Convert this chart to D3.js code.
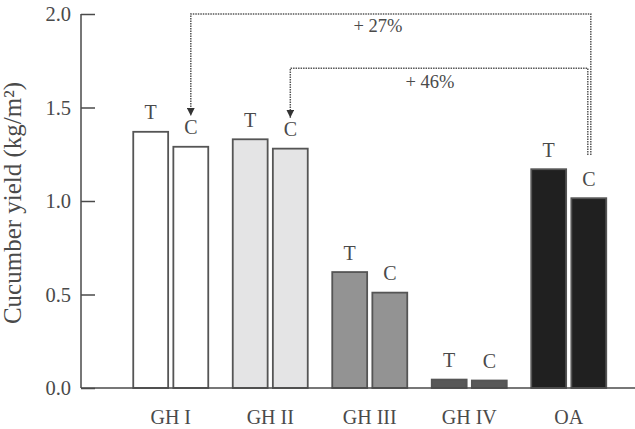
<!DOCTYPE html>
<html>
<head>
<meta charset="utf-8">
<script src="https://cdn.jsdelivr.net/npm/d3@7"></script>
<style>
  body { margin: 0; background: #fff; }
  svg { display: block; font-family: "Liberation Serif", "DejaVu Serif", serif; }
</style>
</head>
<body>
<svg id="chart" width="635" height="429"></svg>
<script>
const groups = [`GH I`, `GH II`, `GH III`, `GH IV`, `OA`];
const treatments = [`T`, `C`];
const tValues = [1.37, 1.33, 0.62, 0.045, 1.17];
const cValues = [1.29, 1.28, 0.51, 0.04, 1.015];
const fills = [`#ffffff`, `#e4e4e5`, `#939393`, `#585858`, `#202020`];
const yTicks = [0, 0.5, 1.0, 1.5, 2.0];

// comparison brackets: from OA control to a greenhouse control
const comparisons = [
  {from: `OA`, to: `GH I`, label: `+ 27%`, level: 2.0},
  {from: `OA`, to: `GH II`, label: `+ 46%`, level: 1.71}
];

const svg = d3.select(`#chart`);
const textColor = `#4a4a4a`;

const y = d3.scaleLinear().domain([0, 2]).range([388, 14]);
const x = d3.scaleBand().domain(groups).range([121, 618.5]);
const xInner = d3.scaleBand().domain(treatments).range([0, 75]).paddingInner(0.13);
const barX = (g, t) => x(g) + (x.bandwidth() - 75) / 2 + xInner(t);
const barMid = (g, t) => barX(g, t) + xInner.bandwidth() / 2;

const rows = [];
groups.forEach((g, i) => {
  rows.push({group: g, t: `T`, value: tValues[i], fill: fills[i]});
  rows.push({group: g, t: `C`, value: cValues[i], fill: fills[i]});
});

// bars
svg.append(`g`).selectAll(`rect`)
  .data(rows)
  .enter().append(`rect`)
  .attr(`x`, d => barX(d.group, d.t))
  .attr(`y`, d => y(d.value))
  .attr(`width`, xInner.bandwidth())
  .attr(`height`, d => y(0) - y(d.value))
  .attr(`fill`, d => d.fill)
  .attr(`stroke`, `#555`)
  .attr(`stroke-width`, 1.8);

// T / C labels
svg.append(`g`).selectAll(`text`)
  .data(rows)
  .enter().append(`text`)
  .attr(`x`, d => barMid(d.group, d.t))
  .attr(`y`, d => y(d.value) - 12.5)
  .attr(`text-anchor`, `middle`)
  .attr(`font-size`, `20px`)
  .attr(`fill`, textColor)
  .text(d => d.t);

// y axis
const yAxis = svg.append(`g`)
  .attr(`transform`, `translate(81,0)`)
  .call(d3.axisRight(y).tickValues(yTicks).tickSize(14).tickFormat(d3.format(`.1f`)));
yAxis.select(`.domain`).attr(`stroke`, textColor).attr(`stroke-width`, 1.5).attr(`d`, `M0,${y(2)}V${y(0)}`);
yAxis.selectAll(`.tick line`).attr(`stroke`, textColor).attr(`stroke-width`, 1.5);
yAxis.selectAll(`.tick text`)
  .attr(`x`, -10)
  .attr(`dy`, `0.33em`)
  .attr(`text-anchor`, `end`)
  .attr(`font-family`, `"Liberation Serif", serif`)
  .attr(`font-size`, `20.5px`)
  .attr(`fill`, textColor);

// x baseline
svg.append(`line`)
  .attr(`x1`, 81).attr(`x2`, 635)
  .attr(`y1`, y(0)).attr(`y2`, y(0))
  .attr(`stroke`, textColor).attr(`stroke-width`, 1.5);

// x labels
svg.append(`g`).selectAll(`text`)
  .data(groups)
  .enter().append(`text`)
  .attr(`x`, d => x(d) + x.bandwidth() / 2)
  .attr(`y`, 424)
  .attr(`text-anchor`, `middle`)
  .attr(`font-size`, `20px`)
  .attr(`fill`, textColor)
  .text(d => d);

// y label
svg.append(`text`)
  .attr(`transform`, `translate(20.5,203) rotate(-90)`)
  .attr(`text-anchor`, `middle`)
  .attr(`font-size`, `25px`)
  .attr(`fill`, textColor)
  .text(`Cucumber yield (kg/m²)`);

// comparison brackets
svg.append(`defs`).append(`marker`)
  .attr(`id`, `arrow`)
  .attr(`viewBox`, `0 0 10 10`)
  .attr(`refX`, 10).attr(`refY`, 5)
  .attr(`markerWidth`, 8).attr(`markerHeight`, 8)
  .attr(`markerUnits`, `userSpaceOnUse`)
  .attr(`orient`, `auto`)
  .append(`path`)
  .attr(`d`, `M0,0L10,5L0,10Z`)
  .attr(`fill`, `#333`);

const cValueOf = g => cValues[groups.indexOf(g)];

comparisons.forEach((c, i) => {
  const xr = barMid(c.from, `C`) + (i === 0 ? 2 : -1);
  const xl = barMid(c.to, `C`);
  const ly = y(c.level);
  const yEnd = 155;
  const yTip = y(cValueOf(c.to)) - 31;

  svg.append(`path`)
    .attr(`d`, `M${xr},${yEnd}V${ly}H${xl}V${yTip}`)
    .attr(`fill`, `none`)
    .attr(`stroke`, `#555`)
    .attr(`stroke-width`, 1.5)
    .attr(`stroke-dasharray`, `1.5,1`)
    .attr(`marker-end`, `url(#arrow)`);

  svg.append(`text`)
    .attr(`x`, i === 0 ? 378 : 430)
    .attr(`y`, i === 0 ? ly + 18 : ly + 20)
    .attr(`text-anchor`, `middle`)
    .attr(`font-size`, `18.5px`)
    .attr(`fill`, textColor)
    .text(c.label);
});
</script>
</body>
</html>
